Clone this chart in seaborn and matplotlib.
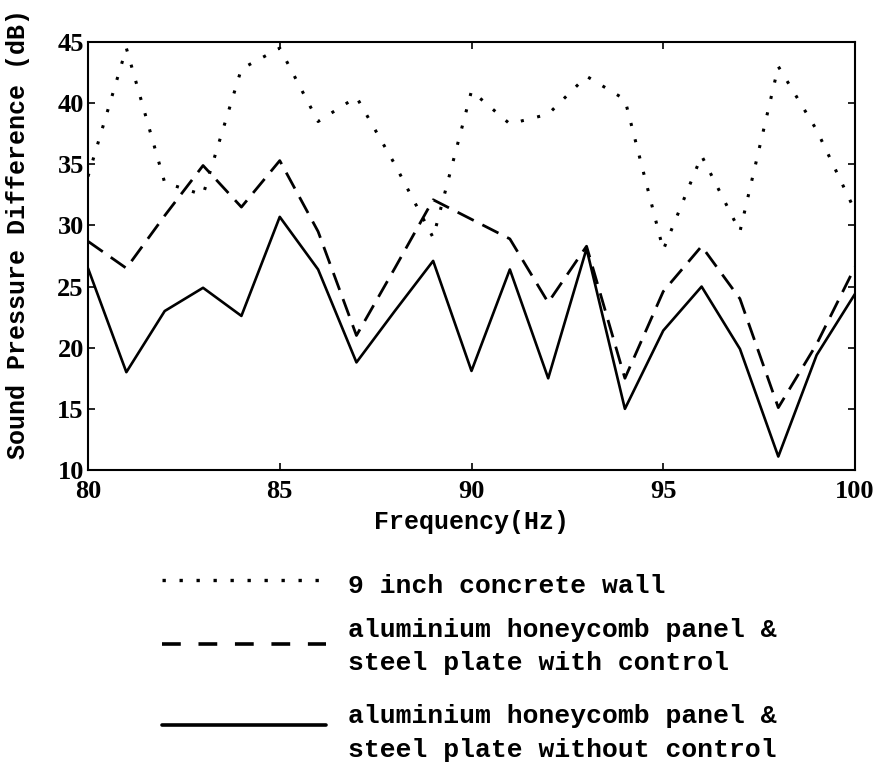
import matplotlib
matplotlib.use("Agg")
import matplotlib.pyplot as plt
from matplotlib.lines import Line2D
import seaborn as sns
import pandas as pd

# ---- data ----
freq = list(range(80, 101))
concrete_wall = [34.0, 44.5, 33.5, 32.5, 42.8, 44.5, 38.5, 40.5, 35.0, 29.0, 41.0,
                 38.3, 39.1, 42.2, 40.3, 28.0, 35.7, 29.5, 43.0, 37.8, 31.2]
with_control = [28.7, 26.5, 30.8, 34.9, 31.5, 35.3, 29.5, 21.0, 26.5, 32.1, 30.5,
                28.9, 23.7, 28.3, 17.5, 24.6, 28.3, 24.0, 15.1, 20.3, 26.6]
without_control = [26.5, 18.0, 23.0, 24.9, 22.6, 30.7, 26.4, 18.8, 23.0, 27.1, 18.1,
                   26.4, 17.5, 28.1, 15.0, 21.4, 25.0, 19.9, 11.1, 19.4, 24.4]
series_labels = ["9 inch concrete wall",
                 "aluminium honeycomb panel &\nsteel plate with control",
                 "aluminium honeycomb panel &\nsteel plate without control"]
x_ticks = [80, 85, 90, 95, 100]
y_ticks = [10, 15, 20, 25, 30, 35, 40, 45]
x_label = "Frequency(Hz)"
y_label = "Sound Pressure Difference (dB)"

sns.set_theme(style="ticks")
plt.rcParams["font.family"] = ["Liberation Mono", "DejaVu Sans"]
plt.rcParams["axes.linewidth"] = 1.5

W, H = 879, 764
fig = plt.figure(figsize=(W / 100, H / 100), dpi=100)
fig.patch.set_facecolor("white")

def fx(px):
    return px / W

def fy(py):
    return 1 - py / H

ax = fig.add_axes([fx(88), fy(470), fx(855) - fx(88), fy(42) - fy(470)])
ax.set_facecolor("white")

df = pd.DataFrame({"freq": freq, "concrete": concrete_wall,
                   "with": with_control, "without": without_control})

styles = [("concrete", (0, (1, 4.5)), 2.2),
          ("with", (0, (6.5, 3.5)), 2.0),
          ("without", "-", 1.9)]
for col, ls, lw in styles:
    sns.lineplot(data=df, x="freq", y=col, ax=ax, color="black",
                 linestyle=ls, linewidth=lw, legend=False)

ax.set_xlim(80, 100)
ax.set_ylim(10, 45)
ax.set_xticks(x_ticks)
ax.set_yticks(y_ticks)
ax.tick_params(direction="in", top=True, right=True, length=5, width=1.2,
               colors="black")
ax.tick_params(axis="y", pad=3)
ax.tick_params(axis="x", pad=7.5)
for lab in ax.get_xticklabels() + ax.get_yticklabels():
    lab.set_fontfamily("Liberation Serif")
    lab.set_fontweight("bold")
    lab.set_fontsize(19)
for sp in ax.spines.values():
    sp.set_color("black")
    sp.set_linewidth(1.5)

ax.set_xlabel(x_label, fontsize=18, color="black", fontweight="bold")
ax.set_ylabel(y_label, fontsize=18, color="black", fontweight="bold")
ax.xaxis.set_label_coords(0.5, (470 - 510) / 428)
ax.yaxis.set_label_coords((30 - 88) / 767, (470 - 234) / 428)

# ---- legend below the axes ----
handle_styles = [((0, (1, 4.1)), 2.4, 580),
                 ((0, (5.2, 4.9)), 2.6, 644),
                 ("-", 2.6, 725)]
for (ls, lw, yy) in handle_styles:
    fig.add_artist(Line2D([fx(162), fx(326)], [fy(yy), fy(yy)],
                          transform=fig.transFigure, color="black",
                          linestyle=ls, linewidth=lw))

text_lines = [(series_labels[0], 593),
              (series_labels[1].split("\n")[0], 637),
              (series_labels[1].split("\n")[1], 670),
              (series_labels[2].split("\n")[0], 723),
              (series_labels[2].split("\n")[1], 757)]
for txt, base in text_lines:
    fig.text(fx(348), fy(base), txt, fontsize=19, color="black",
             ha="left", va="baseline", fontweight="bold")

fig.savefig("out.png", dpi=100, facecolor="white")
